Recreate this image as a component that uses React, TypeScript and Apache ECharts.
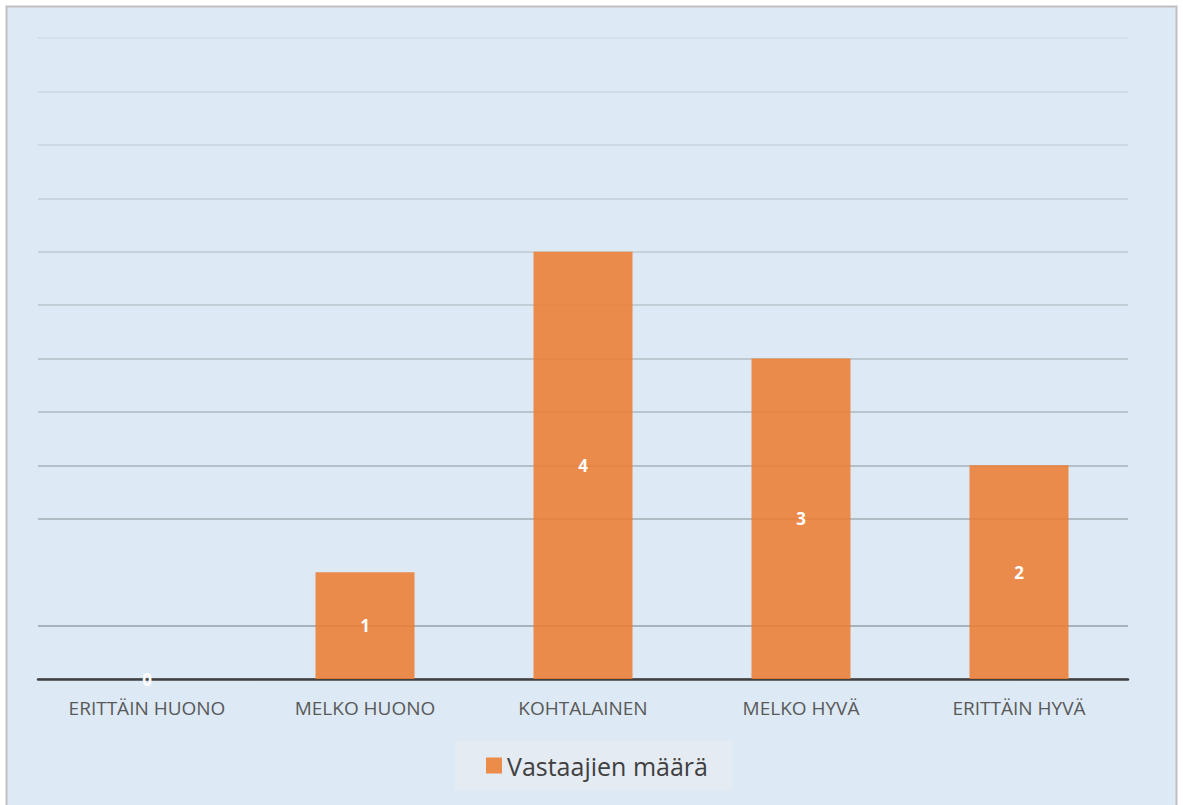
import React, { useEffect, useRef } from "react";
import * as echarts from "echarts";

// Survey answers: number of respondents per rating
const categories = ["ERITTÄIN HUONO", "MELKO HUONO", "KOHTALAINEN", "MELKO HYVÄ", "ERITTÄIN HYVÄ"];
const respondents = [0, 1, 4, 3, 2];
const seriesName = "Vastaajien määrä";

// Gridlines fade from darker at the bottom to lighter at the top;
// the line at 1.0 is not drawn
const gridColors = [
  "#8f9ba4", "#959fa8", "transparent", "#a1abb3", "#a7b1b9", "#adb7bf",
  "#b3bdc5", "#b9c3cb", "#bfc9d1", "#c4ced7", "#c9d3dc", "#cdd8e1", "#d0dbe5",
];

export default function App() {
  const ref = useRef<HTMLDivElement>(null);

  useEffect(() => {
    if (!ref.current) return;
    const chart = echarts.init(ref.current, undefined, { renderer: "svg" });
    chart.setOption({
      animation: false,
      backgroundColor: "#ffffff",
      graphic: [
        {
          type: "rect",
          z: -10,
          silent: true,
          shape: { x: 6.5, y: 6.5, width: 1170, height: 830 },
          style: { fill: "#dde9f5", stroke: "#bfbfbf", lineWidth: 2 },
        },
      ],
      grid: { left: 38, right: 55, top: 38, bottom: 126, containLabel: false },
      legend: {
        data: [seriesName],
        bottom: 15,
        left: 455,
        icon: "rect",
        itemWidth: 16,
        itemHeight: 16,
        itemGap: 6,
        padding: [12, 24, 12, 31],
        backgroundColor: "#e4ebf3",
        textStyle: {
          fontFamily: "'Open Sans', 'Noto Sans', sans-serif",
          fontSize: 25,
          color: "#404040",
        },
      },
      xAxis: {
        type: "category",
        data: categories,
        axisLine: { lineStyle: { color: "#404040", width: 2.5 } },
        axisTick: { show: false },
        axisLabel: {
          margin: 19,
          fontFamily: "'Liberation Sans Narrow', 'Open Sans', sans-serif",
          fontSize: 19,
          color: "#595959",
        },
      },
      yAxis: {
        type: "value",
        min: 0,
        max: 6,
        interval: 0.5,
        axisLabel: { show: false },
        axisLine: { show: false },
        axisTick: { show: false },
        splitLine: { lineStyle: { color: gridColors, width: 1.6 } },
      },
      series: [
        {
          name: seriesName,
          type: "bar",
          data: respondents,
          barWidth: 99,
          itemStyle: { color: "rgba(237,125,49,0.87)" },
          label: {
            show: true,
            position: "inside",
            color: "#ffffff",
            fontWeight: "bold",
            fontSize: 17,
            fontFamily: "'Open Sans', 'Noto Sans', sans-serif",
          },
        },
      ],
    });
    return () => chart.dispose();
  }, []);

  return (
    <div
      ref={ref}
      style={{ position: "fixed", left: 0, top: 0, width: 1183, height: 805 }}
    />
  );
}
